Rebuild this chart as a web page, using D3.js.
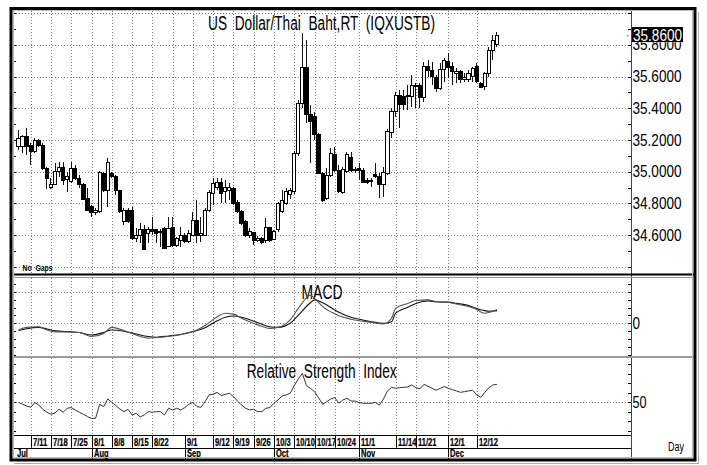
<!DOCTYPE html>
<html><head><meta charset="utf-8">
<script src="https://cdn.jsdelivr.net/npm/d3@7"></script>
<style>
body{margin:0;background:#fff;}
svg{display:block;font-family:"Liberation Sans",Arial,sans-serif;}
</style></head><body>
<svg id="c" width="707" height="465"></svg>
<script>
// ---------- DATA (trading-day index 0 = 1 Jul 2011) ----------
const firstDay = 3;
const open  = [35.162,35.162,35.221,35.168,35.126,35.196,35.168,35.021,34.899,34.922,35.000,35.027,34.950,34.937,35.021,34.958,34.916,34.832,34.783,34.743,34.747,34.989,34.884,34.989,34.968,34.880,34.684,34.758,34.758,34.579,34.600,34.632,34.612,34.637,34.632,34.615,34.642,34.526,34.648,34.537,34.568,34.600,34.558,34.600,34.691,34.600,34.600,34.758,34.863,34.900,34.930,34.874,34.884,34.895,34.804,34.747,34.684,34.600,34.615,34.564,34.579,34.568,34.648,34.573,34.632,34.747,34.800,34.855,34.874,35.116,35.432,35.659,35.358,35.347,35.232,34.990,34.832,34.979,35.111,35.006,34.867,35.000,35.090,35.015,35.021,35.010,34.947,34.937,34.985,34.968,34.916,34.989,35.247,35.379,35.478,35.474,35.474,35.474,35.547,35.541,35.469,35.667,35.638,35.596,35.526,35.642,35.695,35.663,35.621,35.632,35.583,35.583,35.600,35.663,35.558,35.537,35.621,35.764,35.806];
const high  = [35.263,35.232,35.274,35.179,35.211,35.204,35.179,35.032,34.958,35.053,35.063,35.063,35.000,35.063,35.042,34.979,34.926,34.895,34.790,34.768,35.004,35.000,35.088,35.000,34.979,34.884,34.768,34.768,34.779,34.642,34.674,34.663,34.653,34.716,34.632,34.640,34.653,34.716,34.716,34.590,34.653,34.610,34.632,34.747,34.821,34.716,34.768,34.884,34.958,34.958,34.958,34.947,34.926,34.905,34.821,34.758,34.695,34.642,34.621,34.594,34.585,34.705,34.653,34.632,34.811,34.884,34.895,34.900,35.130,35.450,35.874,35.830,35.421,35.379,35.242,35.000,35.021,35.147,35.158,35.042,35.030,35.126,35.126,35.030,35.053,35.021,34.960,34.958,35.053,34.990,35.030,35.270,35.400,35.505,35.516,35.516,35.547,35.610,35.558,35.558,35.695,35.705,35.695,35.610,35.684,35.716,35.747,35.695,35.653,35.642,35.621,35.642,35.663,35.684,35.568,35.632,35.789,35.863,35.884];
const low   = [35.137,35.116,35.105,35.042,35.116,35.158,35.011,34.891,34.891,34.916,34.968,34.916,34.874,34.926,34.947,34.900,34.821,34.754,34.716,34.726,34.737,34.870,34.779,34.958,34.853,34.737,34.663,34.674,34.568,34.558,34.547,34.505,34.550,34.600,34.547,34.526,34.509,34.526,34.526,34.526,34.526,34.547,34.547,34.594,34.547,34.558,34.594,34.747,34.789,34.884,34.800,34.800,34.821,34.789,34.737,34.663,34.585,34.579,34.537,34.558,34.543,34.547,34.558,34.568,34.621,34.737,34.789,34.830,34.860,35.100,35.400,35.305,35.053,35.200,34.985,34.810,34.821,34.968,35.000,34.863,34.860,34.990,35.000,34.990,34.947,34.926,34.920,34.905,34.958,34.832,34.842,34.980,35.211,35.347,35.274,35.389,35.389,35.410,35.400,35.400,35.442,35.600,35.547,35.505,35.516,35.568,35.589,35.547,35.558,35.558,35.568,35.568,35.568,35.558,35.526,35.516,35.600,35.705,35.789];
const close = [35.211,35.221,35.158,35.126,35.196,35.168,35.021,34.958,34.922,35.000,35.027,34.947,34.968,35.021,34.958,34.916,34.825,34.758,34.743,34.754,34.994,34.884,35.057,34.968,34.880,34.747,34.752,34.684,34.579,34.600,34.632,34.509,34.632,34.621,34.611,34.625,34.516,34.642,34.537,34.579,34.594,34.558,34.611,34.691,34.600,34.611,34.758,34.867,34.926,34.930,34.863,34.901,34.901,34.800,34.747,34.674,34.600,34.625,34.568,34.579,34.552,34.648,34.568,34.621,34.800,34.821,34.874,34.879,35.116,35.432,35.659,35.358,35.316,35.232,34.990,34.821,34.979,35.116,35.006,34.874,35.015,35.109,35.006,35.010,35.006,34.930,34.930,34.947,34.968,34.916,34.994,35.253,35.379,35.478,35.421,35.421,35.478,35.547,35.537,35.469,35.667,35.638,35.604,35.526,35.642,35.701,35.659,35.632,35.632,35.579,35.596,35.617,35.653,35.568,35.533,35.621,35.768,35.827,35.860];

const macdDays   = [3,5,8,10,12,16,18,21,24,26,29,32,35,37,40,44,47,49,52,54,56,58,62,65,67,70,72,75,76,78,81,82,85,87,90,93,95,96,99,101,104,106,109,111,114,116,117,118,119,121];
const macdLine   = [-0.021,-0.013,-0.011,-0.021,-0.027,-0.028,-0.029,-0.042,-0.032,-0.013,-0.023,-0.037,-0.047,-0.045,-0.042,-0.032,-0.021,-0.007,0.021,0.032,0.029,0.016,-0.005,-0.016,-0.013,0.011,0.047,0.089,0.079,0.053,0.030,0.024,0.013,0.008,0.003,-0.002,0.016,0.047,0.063,0.072,0.074,0.068,0.066,0.061,0.053,0.044,0.036,0.032,0.034,0.044];
const signalLine = [-0.023,-0.017,-0.013,-0.018,-0.024,-0.027,-0.029,-0.037,-0.029,-0.021,-0.025,-0.034,-0.042,-0.044,-0.040,-0.033,-0.023,-0.014,0.008,0.019,0.023,0.019,0.002,-0.011,-0.013,0.000,0.026,0.065,0.074,0.065,0.042,0.035,0.019,0.013,0.005,0.000,0.005,0.032,0.051,0.063,0.071,0.068,0.067,0.063,0.056,0.047,0.043,0.040,0.038,0.040];

const rsi = [50.0,48.2,46.5,45.4,49.7,47.5,43.5,40.8,38.9,40.2,43.5,40.8,44.5,45.1,42.9,40.8,38.9,36.8,35.2,35.2,48.2,46.0,53.1,50.0,46.9,43.8,41.4,43.5,38.3,39.8,36.5,38.3,41.4,40.8,41.4,41.4,38.3,44.5,42.9,44.5,42.9,45.1,48.2,50.0,46.0,45.4,50.6,56.8,57.4,59.2,56.2,57.4,58.3,55.2,51.2,47.5,44.5,42.9,43.5,41.4,41.4,44.5,45.1,49.1,52.2,55.8,56.8,58.3,65.4,71.5,76.8,65.4,62.9,59.8,54.3,48.2,50.6,53.1,54.3,49.1,52.2,53.7,51.2,51.2,49.7,49.1,49.1,49.1,50.0,47.5,53.1,60.5,63.8,62.9,63.5,63.8,64.2,66.0,63.5,62.5,66.6,64.8,62.9,61.1,62.9,64.5,62.9,61.7,60.5,59.2,59.8,60.5,61.1,56.8,54.6,59.2,63.5,66.0,66.6];

const priceTicks = [34.6,34.8,35.0,35.2,35.4,35.6,35.8];
const priceGrid  = [34.4,34.6,34.8,35.0,35.2,35.4,35.6,35.8,36.0];
const lastPrice  = 35.86;
const macdGrid   = [0, 0.1];
const rsiGrid    = [50];
const weekLabels = ["7/11","7/18","7/25","8/1","8/8","8/15","8/22","9/1","9/12","9/19","9/26","10/3","10/10","10/17","10/24","11/1","11/14","11/21","12/1","12/12"];
const weekDays   = [6,11,16,21,26,31,36,44,51,56,61,66,71,76,81,87,96,101,109,116];
const monthLabels = ["Aug","Sep","Oct","Nov","Dec"];
const monthDays   = [21,44,66,87,109];
const gridDays   = [6,11,16,21,26,31,36,41,46,51,56,61,66,71,76,81,87,96,101,109,116];

// ---------- LAYOUT ----------
const L = 13, R = 631;
const P = {top:10, bottom:274};
const M = {top:277, bottom:357};
const S = {top:357, bottom:435};
const axMid = 447.7, axBot = 459;

const x  = d3.scaleLinear().domain([6,116]).range([30.7,476.7]);
const yP = d3.scaleLinear().domain([34.4,36.0]).range([266.7,13.3]);
const yM = d3.scaleLinear().domain([0,0.1]).range([323.3,291.7]);
const yR = d3.scaleLinear().domain([50,80]).range([402.3,369.8]);

const svg = d3.select('#c');
svg.append('rect').attr('width',707).attr('height',465).attr('fill','#fff');

const defs = svg.append('defs');
[['cp',P],['cm',M],['cr',S]].forEach(([id,p])=>{
  defs.append('clipPath').attr('id',id).append('rect')
    .attr('x',L).attr('y',p.top).attr('width',R-L).attr('height',p.bottom-p.top);
});
// clip in the right-axis group's own coordinates (translated by R)
defs.append('clipPath').attr('id','clab').append('rect').attr('x',0).attr('y',42.2).attr('width',60).attr('height',20);

const h5 = v => Math.round(v)+0.5;
const grid = svg.append('g').attr('stroke','#808080').attr('stroke-dasharray','1,2').attr('stroke-width',1);
function hGrid(vals, sc, p){
  vals.forEach(v=>{ const yy=h5(sc(v)); if(yy>p.top && yy<p.bottom) grid.append('line').attr('x1',L).attr('x2',R).attr('y1',yy).attr('y2',yy); });
}
function vGrid(p){
  gridDays.forEach(d=>{ const xx=h5(x(d)); grid.append('line').attr('x1',xx).attr('x2',xx).attr('y1',p.top+1).attr('y2',p.bottom); });
}
hGrid(priceGrid,yP,P); hGrid(macdGrid,yM,M); hGrid(rsiGrid,yR,S);
vGrid(P); vGrid(M); vGrid(S);

// ---------- TEXT helper ----------
function label(g, str, xx, yy, size, len, opt={}){
  const t = g.append('text').attr('x',xx).attr('y',yy).attr('font-size',size)
    .attr('fill',opt.fill||'#000').attr('font-weight',opt.weight||'normal')
    .style('white-space','pre').text(str);
  if(len) t.attr('textLength',len).attr('lengthAdjust','spacingAndGlyphs');
  return t;
}
const tg = svg.append('g');
label(tg,'US  Dollar/Thai  Baht,RT  (IQXUSTB)',208,29.5,20,227);
label(tg,'MACD',301.5,299.3,21,41);
label(tg,'Relative  Strength  Index',246.7,377.5,20,150);
label(tg,'No  Gaps',22.5,271,9.5,30,{weight:'bold'});

// ---------- CANDLES ----------
const cg = svg.append('g').attr('clip-path','url(#cp)').attr('shape-rendering','crispEdges');
close.forEach((c,k)=>{
  const d = firstDay+k, cx = x(d), o = open[k];
  cg.append('line').attr('x1',cx).attr('x2',cx).attr('y1',yP(high[k])).attr('y2',yP(low[k]))
    .attr('stroke','#111').attr('stroke-width',1);
  const top = yP(Math.max(o,c)), bot = yP(Math.min(o,c));
  cg.append('rect').attr('x',cx-1.6).attr('y',top).attr('width',3.2).attr('height',Math.max(1,bot-top))
    .attr('fill', c>=o ? '#fff' : '#000').attr('stroke','#000').attr('stroke-width',1);
});

// ---------- MACD ----------
const mg = svg.append('g').attr('clip-path','url(#cm)').attr('fill','none');
const lineM = d3.line().x((d,i)=>x(macdDays[i])).y(d=>yM(d)).curve(d3.curveMonotoneX);
mg.append('path').attr('d',lineM(signalLine)).attr('stroke','#111').attr('stroke-width',1.1);
mg.append('path').attr('d',lineM(macdLine)).attr('stroke','#555').attr('stroke-width',1.1);

// ---------- RSI ----------
const rg = svg.append('g').attr('clip-path','url(#cr)').attr('fill','none');
rg.append('path').attr('d',d3.line().x((d,i)=>x(firstDay+i)).y(d=>yR(d))(rsi))
  .attr('stroke','#333').attr('stroke-width',1);

// ---------- RIGHT AXES ----------
const ax = svg.append('g');
const pa = ax.append('g').attr('transform',`translate(${R},0)`)
  .call(d3.axisRight(yP).tickValues(priceTicks).tickFormat(d3.format('.4f')).tickSize(0).tickPadding(1.5));
pa.select('.domain').remove();
pa.selectAll('text').attr('font-size',16).attr('font-family','Liberation Sans, Arial').attr('fill','#000')
  .attr('textLength',49).attr('lengthAdjust','spacingAndGlyphs');
// the label hidden behind the last-price box only shows its lower part
pa.selectAll('.tick').filter(d=>d===35.8).attr('clip-path','url(#clab)').attr('transform',null)
  .select('text').attr('y',yP(35.8));
// last price box
ax.append('rect').attr('x',632).attr('y',yP(lastPrice)-8.4).attr('width',51).attr('height',15).attr('fill','#000');
label(ax,d3.format('.4f')(lastPrice),633,yP(lastPrice)+5.6,16,49,{fill:'#fff'});
ax.append('rect').attr('x',627).attr('y',yP(lastPrice)-0.5).attr('width',1.5).attr('height',1.5).attr('fill','#888');

const ma = ax.append('g').attr('transform',`translate(${R},0)`)
  .call(d3.axisRight(yM).tickValues([0]).tickFormat(d3.format('d')).tickSize(0).tickPadding(1.5));
ma.select('.domain').remove();
ma.selectAll('text').attr('font-size',16).attr('font-family','Liberation Sans, Arial').attr('fill','#000').attr('textLength',7.5).attr('lengthAdjust','spacingAndGlyphs');
const ra = ax.append('g').attr('transform',`translate(${R},0)`)
  .call(d3.axisRight(yR).tickValues([50]).tickFormat(d3.format('d')).tickSize(0).tickPadding(1.5));
ra.select('.domain').remove();
ra.selectAll('text').attr('font-size',16).attr('font-family','Liberation Sans, Arial').attr('fill','#000').attr('textLength',14).attr('lengthAdjust','spacingAndGlyphs');
label(ax,'Day',668,451,13,16);

// minor ticks on left and right edges
const tk = svg.append('g').attr('stroke','#000').attr('stroke-width',1);
function ticks(vals, sc, p){
  vals.forEach(v=>{ const yy=h5(sc(v)); if(yy<=p.top+1||yy>=p.bottom-1) return;
    tk.append('line').attr('x1',L).attr('x2',L+3).attr('y1',yy).attr('y2',yy);
    tk.append('line').attr('x1',R-3).attr('x2',R).attr('y1',yy).attr('y2',yy);
  });
}
ticks(d3.range(0,17).map(k=>34.4+k*0.1), yP, P);
ticks(d3.range(-5,8).map(k=>k*0.025), yM, M);
ticks(d3.range(-5,6).map(k=>50+k*8.77), yR, S);

// ---------- BOTTOM AXIS ----------
const xa = svg.append('g');
xa.append('line').attr('x1',L).attr('x2',R).attr('y1',h5(S.bottom)).attr('y2',h5(S.bottom)).attr('stroke','#000');
xa.append('line').attr('x1',L).attr('x2',R).attr('y1',h5(axMid)).attr('y2',h5(axMid)).attr('stroke','#000');
function small(str, xx, yy){
  xa.append('text').attr('transform',`translate(${xx},${yy}) scale(0.72,1)`).attr('font-size',10.5)
    .attr('font-weight','bold').attr('fill','#000').attr('stroke','#000').attr('stroke-width',0.25).text(str);
}
weekDays.forEach((d,i)=>{
  const xx=h5(x(d));
  xa.append('line').attr('x1',xx).attr('x2',xx).attr('y1',S.bottom).attr('y2',axMid).attr('stroke','#000');
  small(weekLabels[i], xx+1.5, 446);
});
monthDays.forEach((d,i)=>{
  const xx=h5(x(d));
  xa.append('line').attr('x1',xx).attr('x2',xx).attr('y1',axMid).attr('y2',axBot).attr('stroke','#000');
  small(monthLabels[i], xx+1.5, 456.8);
});
small('Jul', 17, 456.8);

// ---------- FRAME / SEPARATORS ----------
const fr = svg.append('g').attr('fill','none');
fr.append('line').attr('x1',h5(R)).attr('x2',h5(R)).attr('y1',P.top).attr('y2',axBot).attr('stroke','#444');
fr.append('line').attr('x1',L).attr('x2',694).attr('y1',274.5).attr('y2',274.5).attr('stroke','#000').attr('stroke-width',2);
fr.append('line').attr('x1',L).attr('x2',694).attr('y1',277.5).attr('y2',277.5).attr('stroke','#999').attr('stroke-width',1);
fr.append('line').attr('x1',L).attr('x2',694).attr('y1',357).attr('y2',357).attr('stroke','#9a9a9a').attr('stroke-width',2);
fr.append('rect').attr('x',13.5).attr('y',10.5).attr('width',679).attr('height',447).attr('stroke','#bbb');
fr.append('rect').attr('x',11).attr('y',8.5).attr('width',684).attr('height',451.5).attr('stroke','#000').attr('stroke-width',3);
fr.append('line').attr('x1',698.5).attr('x2',698.5).attr('y1',12).attr('y2',463.5).attr('stroke','#aaa');
fr.append('line').attr('x1',14).attr('x2',698.5).attr('y1',463.5).attr('y2',463.5).attr('stroke','#aaa');
</script>
</body></html>
